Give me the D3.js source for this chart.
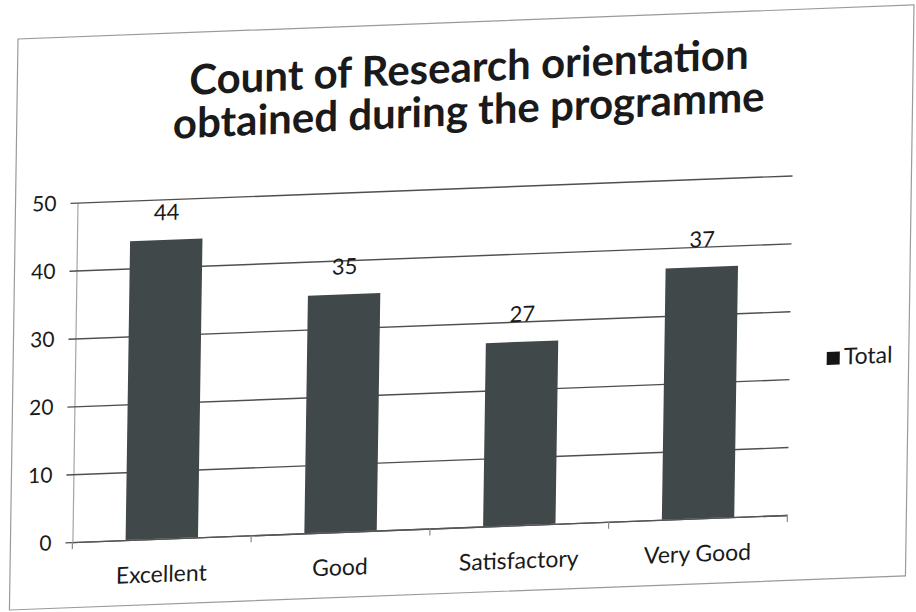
<!DOCTYPE html>
<html>
<head>
<meta charset="utf-8">
<title>Count of Research orientation</title>
<script src="https://cdn.jsdelivr.net/npm/d3@7"></script>
<style>
  body { margin: 0; background: #fff; }
  text { font-family: Lato, "Open Sans", sans-serif; fill: #1a1a1a; }
</style>
</head>
<body>
<div id="chart"></div>
<script>
// Data
const categories = ["Excellent", "Good", "Satisfactory", "Very Good"];
const totals = [44, 35, 27, 37];
const yTicks = [0, 10, 20, 30, 40, 50];
const titleLines = ["Count of Research orientation", "obtained during the programme"];
const seriesName = "Total";

const width = 916;
const height = 612;
const barColor = "#40484a";

const svg = d3.select("#chart")
    .append("svg")
    .attr("width", width)
    .attr("height", height);

// the printed chart was photographed a bit askew, so tilt everything the same way
const g = svg.append("g")
    .attr("transform", "translate(18,39) matrix(1,-0.038,-0.015,1,0,0) translate(-18,-39)");

// chart frame
g.append("rect")
    .attr("x", 18)
    .attr("y", 39)
    .attr("width", 896)
    .attr("height", 571)
    .attr("fill", "#fff")
    .attr("stroke", "#9a9a9a")
    .attr("stroke-width", 1.2);

// title (tilts a touch more than the rest in the photo)
g.append("g")
    .attr("transform", "rotate(-0.5, 470, 120)")
    .selectAll("text")
    .data(titleLines)
    .enter().append("text")
    .attr("x", 470)
    .attr("y", (d, i) => 99 + i * 43)
    .attr("text-anchor", "middle")
    .style("font-size", "42px")
    .style("font-weight", "bold")
    .text(d => d);

const plotLeft = 80;
const plotRight = 795;

const x = d3.scaleBand()
    .domain(categories)
    .range([plotLeft, plotRight])
    .paddingInner(0.595)
    .paddingOuter(0.2975);

const y = d3.scaleLinear()
    .domain([0, 50])
    .range([544.5, 205]);

// y axis with gridlines running across the plot
const yAxis = g.append("g")
    .attr("transform", `translate(${plotLeft},0)`)
    .call(d3.axisLeft(y)
        .tickValues(yTicks)
        .tickSize(-(plotRight - plotLeft))
        .tickSizeOuter(0)
        .tickPadding(21));

yAxis.select(".domain")
    .attr("stroke", "#a5a5a5")
    .attr("stroke-width", 1.2);

yAxis.selectAll(".tick line")
    .attr("x1", -7)
    .attr("stroke", "#4f4f4f")
    .attr("stroke-width", 1.4);

yAxis.selectAll(".tick text")
    .style("font-size", "21px");

// bars
g.append("g")
    .selectAll("rect")
    .data(totals)
    .enter().append("rect")
    .attr("x", (d, i) => x(categories[i]))
    .attr("y", d => y(d))
    .attr("width", x.bandwidth())
    .attr("height", d => y(0) - y(d))
    .attr("fill", barColor);

// data labels above the bars
g.append("g")
    .selectAll("text")
    .data(totals)
    .enter().append("text")
    .attr("x", (d, i) => x(categories[i]) + x.bandwidth() / 2)
    .attr("y", d => y(d) - 20)
    .attr("text-anchor", "middle")
    .style("font-size", "22px")
    .text(d => d);

// category axis
const xAxis = g.append("g")
    .attr("transform", `translate(0,${y(0)})`)
    .call(d3.axisBottom(x)
        .tickSize(0)
        .tickPadding(27));

xAxis.select(".domain")
    .attr("stroke", "#555")
    .attr("stroke-width", 1.4);

xAxis.selectAll(".tick text")
    .style("font-size", "23px");

// little tick marks between the categories
const boundaries = d3.range(categories.length + 1).map(i => plotLeft + i * x.step());
xAxis.append("g")
    .selectAll("line")
    .data(boundaries)
    .enter().append("line")
    .attr("x1", d => d)
    .attr("x2", d => d)
    .attr("y1", 0)
    .attr("y2", 7)
    .attr("stroke", "#8a8a8a")
    .attr("stroke-width", 1.2);

// legend
const legend = g.append("g")
    .attr("transform", "translate(832,383)");

legend.append("rect")
    .attr("width", 13)
    .attr("height", 13)
    .attr("fill", "#151515");

legend.append("text")
    .attr("x", 17)
    .attr("y", 13)
    .style("font-size", "23px")
    .text(seriesName);
</script>
</body>
</html>
